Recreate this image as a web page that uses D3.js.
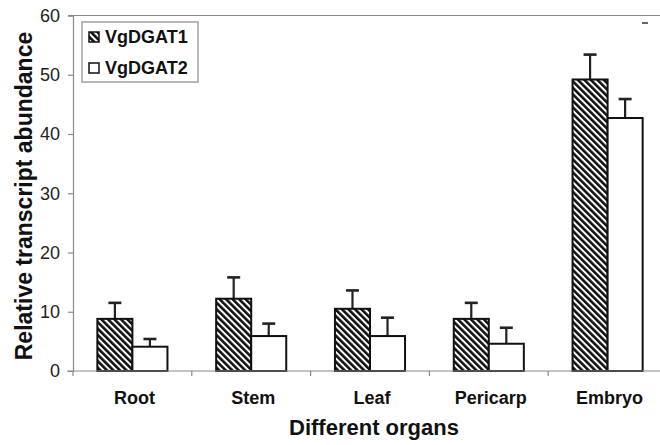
<!DOCTYPE html>
<html>
<head>
<meta charset="utf-8">
<script src="https://cdn.jsdelivr.net/npm/d3@7"></script>
<style>
  html, body { margin: 0; padding: 0; background: #fff; }
  svg { display: block; font-family: "Liberation Sans", Arial, sans-serif; }
</style>
</head>
<body>
<svg id="chart" width="660" height="445"></svg>
<script>
const categories = ["Root", "Stem", "Leaf", "Pericarp", "Embryo"];
const seriesNames = ["VgDGAT1", "VgDGAT2"];
const dgat1Values = [8.8, 12.2, 10.5, 8.8, 49.2];
const dgat1Errors = [2.7, 3.6, 3.1, 2.7, 4.2];
const dgat2Values = [4.1, 5.9, 5.9, 4.6, 42.7];
const dgat2Errors = [1.3, 2.1, 3.1, 2.7, 3.2];
const yTicks = [0, 10, 20, 30, 40, 50, 60];

const svg = d3.select("#chart");
const margin = { left: 73, right: -7, top: 15.5, bottom: 74 };
const W = 660, H = 445;

const x0 = d3.scaleBand().domain(categories).range([73, 667]).padding(0);
const x1 = d3.scaleBand().domain(seriesNames)
  .range([x0.bandwidth() * 0.205, x0.bandwidth() * 0.795]).padding(0);
const y = d3.scaleLinear().domain([0, 60]).range([371, 15.5]);

// hatch pattern
const defs = svg.append("defs");
const pat = defs.append("pattern")
  .attr("id", "hatch")
  .attr("patternUnits", "userSpaceOnUse")
  .attr("width", 4.6).attr("height", 10)
  .attr("patternTransform", "rotate(-45)");
pat.append("rect").attr("width", 4.6).attr("height", 10).attr("fill", "#fff");
pat.append("rect").attr("width", 2.6).attr("height", 10).attr("fill", "#111");

const fills = { VgDGAT1: "url(#hatch)", VgDGAT2: "#fff" };

const data = categories.map((c, i) => ({
  cat: c,
  vals: [
    { s: "VgDGAT1", v: dgat1Values[i], e: dgat1Errors[i] },
    { s: "VgDGAT2", v: dgat2Values[i], e: dgat2Errors[i] }
  ]
}));

const axisColor = "#8a8a8a";

// top frame line
svg.append("line")
  .attr("x1", 68).attr("x2", W)
  .attr("y1", y(60)).attr("y2", y(60))
  .attr("stroke", axisColor).attr("stroke-width", 1.2);

// Y axis
const yAxis = svg.append("g")
  .attr("transform", "translate(73,0)")
  .call(d3.axisLeft(y).tickValues(yTicks).tickSize(5).tickPadding(8).tickFormat(d3.format("d")));
yAxis.select(".domain").attr("stroke", axisColor).attr("stroke-width", 1.2);
yAxis.selectAll(".tick line").attr("stroke", axisColor).attr("stroke-width", 1.2);
yAxis.selectAll(".tick text")
  .attr("font-size", 18).attr("fill", "#222")
  .attr("font-family", "'Liberation Sans', Arial, sans-serif");

// groups & bars
const groups = svg.append("g").selectAll("g")
  .data(data).join("g")
  .attr("transform", d => `translate(${x0(d.cat)},0)`);

// error bars (behind bars)
groups.selectAll(".err")
  .data(d => d.vals).join("g")
  .attr("class", "err")
  .each(function (d) {
    const g = d3.select(this);
    const cx = x1(d.s) + x1.bandwidth() / 2;
    g.append("line")
      .attr("x1", cx).attr("x2", cx)
      .attr("y1", y(d.v)).attr("y2", y(d.v + d.e))
      .attr("stroke", "#222").attr("stroke-width", 2.2);
    g.append("line")
      .attr("x1", cx - 6.5).attr("x2", cx + 6.5)
      .attr("y1", y(d.v + d.e)).attr("y2", y(d.v + d.e))
      .attr("stroke", "#222").attr("stroke-width", 2.6);
  });

groups.selectAll("rect.bar")
  .data(d => d.vals).join("rect")
  .attr("class", "bar")
  .attr("x", d => x1(d.s))
  .attr("width", x1.bandwidth())
  .attr("y", d => y(d.v))
  .attr("height", d => y(0) - y(d.v))
  .attr("fill", d => fills[d.s])
  .attr("stroke", "#111")
  .attr("stroke-width", 2);

// X axis
const xAxis = svg.append("g")
  .attr("transform", `translate(0,${y(0)})`);
xAxis.append("line")
  .attr("x1", 67).attr("x2", W)
  .attr("stroke", axisColor).attr("stroke-width", 1.2);
const boundaries = categories.map(c => x0(c));
xAxis.selectAll(".xt")
  .data(boundaries).join("line")
  .attr("class", "xt")
  .attr("x1", d => d).attr("x2", d => d)
  .attr("y1", 0).attr("y2", 5)
  .attr("stroke", axisColor).attr("stroke-width", 1.2);
xAxis.selectAll(".xl")
  .data(categories).join("text")
  .attr("class", "xl")
  .attr("x", d => x0(d) + x0.bandwidth() / 2 + 2)
  .attr("y", 33)
  .attr("text-anchor", "middle")
  .attr("font-size", 18).attr("font-weight", "bold").attr("fill", "#111")
  .text(d => d);

// small mark at top right
svg.append("line")
  .attr("x1", 642).attr("x2", 648)
  .attr("y1", 23).attr("y2", 23)
  .attr("stroke", "#333").attr("stroke-width", 1.5);

// axis titles
svg.append("text")
  .attr("x", 374).attr("y", 435)
  .attr("text-anchor", "middle")
  .attr("font-size", 22).attr("font-weight", "bold").attr("fill", "#111")
  .text("Different organs");

svg.append("text")
  .attr("transform", "translate(32,196) rotate(-90)")
  .attr("text-anchor", "middle")
  .attr("font-size", 23).attr("font-weight", "bold").attr("fill", "#111")
  .text("Relative transcript abundance");

// legend
const legend = svg.append("g");
legend.append("rect")
  .attr("x", 82).attr("y", 22).attr("width", 116).attr("height", 60)
  .attr("fill", "#fff").attr("stroke", axisColor).attr("stroke-width", 1.2);
const li = legend.selectAll(".li").data(seriesNames).join("g")
  .attr("class", "li")
  .attr("transform", (d, i) => `translate(89,${32 + i * 31})`);
li.append("rect")
  .attr("width", 10).attr("height", 10)
  .attr("fill", d => fills[d]).attr("stroke", "#111").attr("stroke-width", 1.5);
li.append("text")
  .attr("x", 16).attr("y", 11)
  .attr("font-size", 18).attr("font-weight", "bold").attr("fill", "#111")
  .text(d => d);
</script>
</body>
</html>
